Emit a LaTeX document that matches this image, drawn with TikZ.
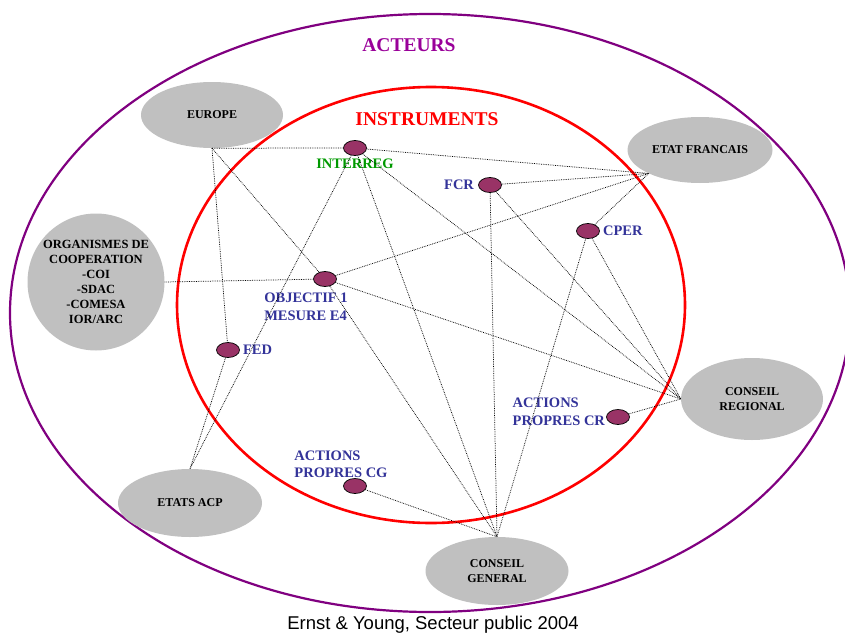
\documentclass[tikz,border=0pt]{standalone}
\usepackage{fontspec}
\setmainfont{Liberation Serif}
\newfontfamily\arialfont{Liberation Sans}
\usetikzlibrary{shapes.geometric,positioning}

\definecolor{grisacteur}{HTML}{C0C0C0}
\definecolor{bordeaux}{HTML}{993366}
\definecolor{bleutexte}{HTML}{333399}
\definecolor{vertinterreg}{HTML}{009900}
\definecolor{violetacteurs}{HTML}{800080}
\definecolor{violettitre}{HTML}{990099}

\tikzset{
  acteur/.style={ellipse, fill=grisacteur, inner sep=0pt, align=center,
    font=\bfseries\fontsize{12}{15}\selectfont},
  instrument/.style={ellipse, draw=black, fill=bordeaux, line width=0.7pt,
    minimum width=23pt, minimum height=15pt, inner sep=0pt},
  etiquette/.style={inner sep=0pt, text=bleutexte, align=left,
    font=\bfseries\fontsize{14.5}{17.5}\selectfont},
  lien/.style={densely dotted, line width=0.75pt, black}
}

\begin{document}
\begin{tikzpicture}[x=1pt, y=-1pt]
   \useasboundingbox (0,0) rectangle (845,634);
   \draw[violetacteurs, line width=2.2pt] (430,313) ellipse [x radius=420pt, y radius=299pt];
   \draw[red, line width=2.6pt] (431,305) ellipse [x radius=254pt, y radius=218pt];
   \node[text=violettitre, font=\bfseries\fontsize{19.5}{22}\selectfont] (acteurs) at (409,45) {ACTEURS};
   \node[text=red, font=\bfseries\fontsize{19.5}{22}\selectfont] (instruments) at (427,119) {INSTRUMENTS};

   % acteurs
   \node[acteur, minimum width=142pt, minimum height=66pt] (europe) at (212,115) {EUROPE};
   \node[acteur, minimum width=145pt, minimum height=66pt] (etatfr) at (700,150) {ETAT FRANCAIS};
   \node[acteur, circle, minimum size=137pt, font=\bfseries\fontsize{12.5}{15}\selectfont] (organismes) at (96,282) {ORGANISMES DE\\COOPERATION\\-COI\\-SDAC\\-COMESA\\IOR/ARC};
   \node[acteur, minimum width=142pt, minimum height=82pt] (cr) at (752,399) {CONSEIL\\REGIONAL};
   \node[acteur, minimum width=144pt, minimum height=68pt] (acp) at (190,503) {ETATS ACP};
   \node[acteur, minimum width=143pt, minimum height=68pt] (cg) at (497,571) {CONSEIL\\GENERAL};

   % instruments
   \node[instrument] (interreg) at (355,148) {};
   \node[instrument] (fcr) at (490,185) {};
   \node[instrument] (cper) at (588,231) {};
   \node[instrument] (objectif) at (325,279) {};
   \node[instrument] (fed) at (228,350) {};
   \node[instrument] (apcr) at (618,417) {};
   \node[instrument] (apcg) at (355,486) {};

   \node[etiquette, text=vertinterreg, below=3pt of interreg] (l_interreg) {INTERREG};
   \node[etiquette, left=4pt of fcr] (l_fcr) {FCR};
   \node[etiquette, right=3pt of cper] (l_cper) {CPER};
   \node[etiquette, right=3pt of fed] (l_fed) {FED};
   \node[etiquette, below=6pt of objectif, xshift=-19pt] (l_objectif) {OBJECTIF 1\\MESURE E4};
   \node[etiquette, left=1pt of apcr, yshift=5pt] (l_apcr) {ACTIONS\\PROPRES CR};
   \node[etiquette, above=0pt of apcg, xshift=-14pt] (l_apcg) {ACTIONS\\PROPRES CG};

   \path[lien]
    (europe.south) edge (interreg)
                   edge (fed)
                   edge (objectif)
    (organismes.east) edge (objectif)
    (interreg) edge (etatfr.south west)
               edge (cr.west)
               edge (cg.north)
               edge (acp.north)
    (fcr) edge (etatfr.south west)
          edge (cr.west)
          edge (cg.north)
    (cper) edge (etatfr.south west)
           edge (cr.west)
           edge (cg.north)
    (objectif) edge (etatfr.south west)
               edge (cr.west)
               edge (cg.north)
    (fed) edge (acp.north)
    (apcr) edge (cr.west)
    (apcg) edge (cg.north);

   \node[anchor=base, inner sep=0pt, font=\arialfont\fontsize{18.5}{20}\selectfont] (source) at (433,629) {Ernst \& Young, Secteur public 2004};
\end{tikzpicture}
\end{document}
